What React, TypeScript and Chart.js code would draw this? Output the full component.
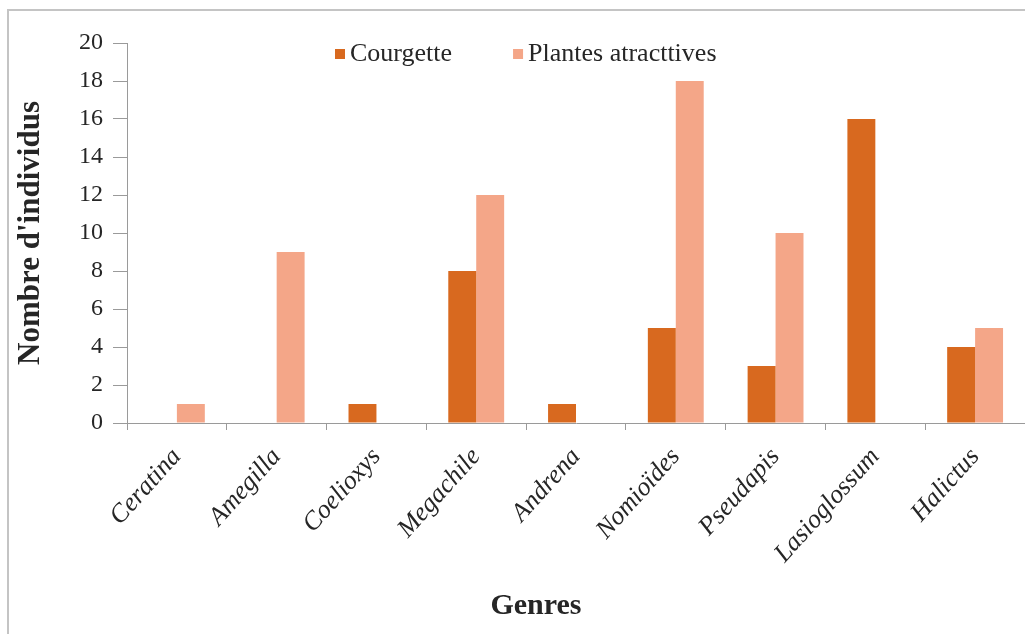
import React, { useEffect, useRef } from "react";
import { Chart, registerables } from "chart.js";

Chart.register(...registerables);

// Genres d'abeilles observés
const genres = [
  "Ceratina",
  "Amegilla",
  "Coelioxys",
  "Megachile",
  "Andrena",
  "Nomioïdes",
  "Pseudapis",
  "Lasioglossum",
  "Halictus",
];

// Nombre d'individus par genre
const courgette = [0, 0, 1, 8, 1, 5, 3, 16, 4];
const plantesAttractives = [1, 9, 0, 12, 0, 18, 10, 0, 5];

const yTicks = [0, 2, 4, 6, 8, 10, 12, 14, 16, 18, 20];

const xTitle = "Genres";
const yTitle = "Nombre d'individus";

const SERIF = "'Liberation Serif', 'Times New Roman', Times, serif";
const TEXT = "#262626";
const AXIS = "#9a9a9a";
const COL_COURGETTE = "#D8691F";
const COL_PLANTES = "#F4A688";

// White background plus the thin outer frame on the left and top edges
const framePlugin = {
  id: "frame",
  beforeDraw(chart: Chart) {
    const { ctx, width, height } = chart;
    ctx.save();
    ctx.fillStyle = "#ffffff";
    ctx.fillRect(0, 0, width, height);
    ctx.strokeStyle = "#c4c4c4";
    ctx.lineWidth = 2;
    ctx.beginPath();
    ctx.moveTo(8, height);
    ctx.lineTo(8, 10);
    ctx.lineTo(width, 10);
    ctx.stroke();
    ctx.restore();
  },
};

// Legend inside the top of the plot area, and the category-axis title
const annotationsPlugin = {
  id: "annotations",
  afterDraw(chart: Chart) {
    const { ctx, chartArea, height } = chart;
    ctx.save();
    ctx.font = `26px ${SERIF}`;
    ctx.textBaseline = "middle";
    ctx.textAlign = "left";
    const y = chartArea.top + 11;
    let x = chartArea.left + 208;
    chart.data.datasets.forEach((ds: any) => {
      ctx.fillStyle = ds.backgroundColor;
      ctx.fillRect(x, y - 5, 10, 10);
      x += 15;
      ctx.fillStyle = TEXT;
      ctx.fillText(ds.label, x, y);
      x += ctx.measureText(ds.label).width + 61;
    });

    ctx.font = `bold 30px ${SERIF}`;
    ctx.textAlign = "center";
    ctx.fillStyle = TEXT;
    ctx.fillText(xTitle, chartArea.left + 409, height - 28);
    ctx.restore();
  },
};

export default function App() {
  const canvasRef = useRef<HTMLCanvasElement | null>(null);

  useEffect(() => {
    if (!canvasRef.current) return;
    const chart = new Chart(canvasRef.current, {
      type: "bar",
      data: {
        labels: genres,
        datasets: [
          {
            label: "Courgette",
            data: courgette,
            backgroundColor: COL_COURGETTE,
            borderWidth: 0,
            categoryPercentage: 0.56,
            barPercentage: 1,
          },
          {
            label: "Plantes atracttives",
            data: plantesAttractives,
            backgroundColor: COL_PLANTES,
            borderWidth: 0,
            categoryPercentage: 0.56,
            barPercentage: 1,
          },
        ],
      },
      options: {
        animation: false,
        responsive: true,
        maintainAspectRatio: false,
        layout: { padding: { top: 43, left: 0, right: 0, bottom: 0 } },
        plugins: {
          legend: { display: false },
          tooltip: { enabled: false },
        },
        scales: {
          x: {
            grid: {
              drawOnChartArea: false,
              tickLength: 7,
              color: AXIS,
            },
            border: { color: AXIS, width: 1 },
            ticks: {
              color: TEXT,
              font: { family: SERIF, size: 26, style: "italic" },
              minRotation: 48,
              maxRotation: 48,
              padding: 12,
            },
            afterFit(scale: any) {
              scale.height = 211;
            },
          },
          y: {
            min: 0,
            max: 20,
            afterBuildTicks(scale: any) {
              scale.ticks = yTicks.map((v) => ({ value: v }));
            },
            grid: {
              drawOnChartArea: false,
              tickLength: 14,
              color: AXIS,
            },
            border: { color: AXIS, width: 1 },
            ticks: {
              color: TEXT,
              font: { family: SERIF, size: 24 },
              padding: 10,
            },
            title: {
              display: true,
              text: yTitle,
              color: TEXT,
              font: { family: SERIF, size: 31, weight: "bold" },
              padding: { top: 12, bottom: 0 },
            },
            afterFit(scale: any) {
              scale.width = 127;
            },
          },
        },
      },
      plugins: [framePlugin, annotationsPlugin],
    });
    return () => chart.destroy();
  }, []);

  return (
    <div
      style={{
        position: "fixed",
        left: 0,
        top: 0,
        width: 1025,
        height: 634,
        background: "#ffffff",
      }}
    >
      <canvas ref={canvasRef} />
    </div>
  );
}
